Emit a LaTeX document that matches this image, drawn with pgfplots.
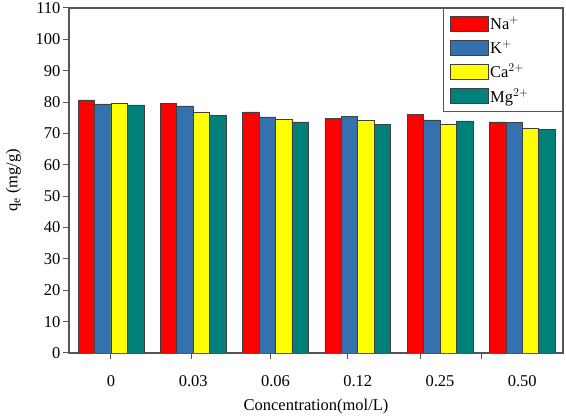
\documentclass[border=0pt]{standalone}
\usepackage{fontspec}
\setmainfont{Liberation Serif}
\usepackage{pgfplots}
\pgfplotsset{compat=1.18}
\definecolor{cNa}{HTML}{FF0000}
\definecolor{cK}{HTML}{3571AE}
\definecolor{cCa}{HTML}{FFFF00}
\definecolor{cMg}{HTML}{00807A}
\definecolor{axgray}{HTML}{555555}
\begin{document}
\begin{tikzpicture}
\begin{axis}[
  name=ax,
  scale only axis,
  width=494pt, height=345pt,
  xmin=-0.51, xmax=5.495,
  ymin=0, ymax=110,
  ytick={0,10,...,110},
  xtick={0,0.975,1.943,2.878,3.757,4.507},
  xticklabels={},
  extra x ticks={0,1,2,3,4,5},
  extra x tick labels={0,0.03,0.06,0.12,0.25,0.50},
  extra x tick style={major tick length=0pt, xticklabel style={yshift=-19pt}},
  xtick pos=bottom, ytick pos=left,
  tick align=outside,
  major tick length=6pt,
  tick style={axgray, line width=1pt},
  axis line style={axgray, line width=1.2pt},
  /pgf/number format/assume math mode=true,
  tick label style={font=\fontsize{16.5}{18}\selectfont},
  yticklabel style={xshift=1pt},
  label style={font=\fontsize{16.5}{19}\selectfont},
  xlabel={Concentration(mol/L)},
  ylabel={q$_\mathrm{e}$ (mg/g)},
  xlabel style={yshift=1pt},
  ylabel style={yshift=8pt},
  bar width=0.2,
  legend style={at={(1,1)}, anchor=north east, draw=axgray, line width=0.8pt,
    font=\fontsize{16.5}{19}\selectfont, row sep=5pt, inner xsep=6pt, inner ysep=6pt,
    cells={anchor=west}},
  legend image code/.code={\draw[#1] (0pt,-7.5pt) rectangle (38pt,7.5pt);},
]
\addplot[ybar, bar shift=-0.3, fill=cNa, draw=black!75, line width=0.6pt]
  coordinates {(0,80.7) (1,79.5) (2,76.9) (3,74.8) (4,76.1) (5,73.7)};
\addlegendentry{Na$^{+}$}
\addplot[ybar, bar shift=-0.1, fill=cK, draw=black!75, line width=0.6pt]
  coordinates {(0,79.4) (1,78.8) (2,75.3) (3,75.5) (4,74.3) (5,73.4)};
\addlegendentry{K$^{+}$}
\addplot[ybar, bar shift=0.1, fill=cCa, draw=black!75, line width=0.6pt]
  coordinates {(0,79.5) (1,76.7) (2,74.4) (3,74.1) (4,72.9) (5,71.8)};
\addlegendentry{Ca$^{2+}$}
\addplot[ybar, bar shift=0.3, fill=cMg, draw=black!75, line width=0.6pt]
  coordinates {(0,79.1) (1,75.8) (2,73.7) (3,72.9) (4,74.0) (5,71.4)};
\addlegendentry{Mg$^{2+}$\rule{26pt}{0pt}}
\end{axis}
\pgfresetboundingbox
\path ([shift={(-69pt,-65pt)}]ax.south west) rectangle ([shift={(3pt,8pt)}]ax.north east);
\end{tikzpicture}
\end{document}
